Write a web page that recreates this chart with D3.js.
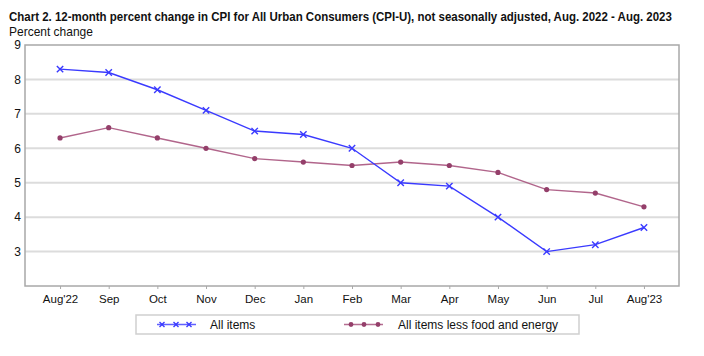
<!DOCTYPE html>
<html><head><meta charset="utf-8">
<script src="https://cdn.jsdelivr.net/npm/d3@7"></script>
<style>body{margin:0;background:#fff}svg{display:block}text{font-family:"Liberation Sans",Arial,sans-serif;fill:#111}</style>
</head><body><svg id="c" width="704" height="356"></svg>
<script>
const months = ["Aug'22","Sep","Oct","Nov","Dec","Jan","Feb","Mar","Apr","May","Jun","Jul","Aug'23"];
const allItems = [8.3,8.2,7.7,7.1,6.5,6.4,6.0,5.0,4.9,4.0,3.0,3.2,3.7];
const coreItems = [6.3,6.6,6.3,6.0,5.7,5.6,5.5,5.6,5.5,5.3,4.8,4.7,4.3];
const yTicks = [3,4,5,6,7,8,9];
const seriesNames = ["All items","All items less food and energy"];

const svg = d3.select("#c");
const L=25,R=679,T=45,B=286;
const FF = "Liberation Sans, Arial, sans-serif";
const x = d3.scalePoint().domain(months).range([L,R]).padding(0.72);
const y = d3.scaleLinear().domain([2,9]).range([B,T]);

function fitText(sel, tx, ty, w){
  const n = sel.node().getComputedTextLength();
  const s = Math.min(1, w/n);
  sel.attr("transform",`translate(${tx},${ty}) scale(${s},1)`);
}
const title = svg.append("text").attr("font-size",12.5).attr("font-weight","bold")
  .text("Chart 2. 12-month percent change in CPI for All Urban Consumers (CPI-U), not seasonally adjusted, Aug. 2022 - Aug. 2023");
fitText(title,9,20.5,663);
const pc = svg.append("text").attr("font-size",12.5).text("Percent change");
fitText(pc,9,35.5,84);

// gridlines
svg.append("g").selectAll("line").data(yTicks.filter(d=>d<9)).join("line")
  .attr("x1",L).attr("x2",R).attr("y1",d=>y(d)).attr("y2",d=>y(d))
  .attr("stroke","#dcdcdc").attr("stroke-width",2);

// y axis labels
const ya = svg.append("g").attr("transform",`translate(${L},0)`)
  .call(d3.axisLeft(y).tickValues(yTicks).tickSize(0).tickPadding(4).tickFormat(d3.format("d")));
ya.select(".domain").remove();
ya.selectAll("text").attr("font-size",12).attr("fill","#111").attr("font-family",FF);

// x axis
const xa = svg.append("g").attr("transform",`translate(0,${B})`)
  .call(d3.axisBottom(x).tickSize(3).tickPadding(6));
xa.select(".domain").remove();
xa.selectAll("line").attr("stroke","#aaa");
xa.selectAll("text").attr("font-size",11.5).attr("fill","#111").attr("font-family",FF);

// border
svg.append("rect").attr("x",L).attr("y",T).attr("width",R-L).attr("height",B-T)
  .attr("fill","none").attr("stroke","#a8a8a8").attr("stroke-width",1.5);

const line = d3.line().x((d,i)=>x(months[i])).y(d=>y(d));
const blue="#3a3aff", maroon="#a34a77", maroonDot="#943f6a";
svg.append("path").datum(coreItems).attr("d",line).attr("fill","none").attr("stroke",maroon).attr("stroke-width",1.4).attr("opacity",0.85);
svg.append("g").selectAll("circle").data(coreItems).join("circle")
  .attr("cx",(d,i)=>x(months[i])).attr("cy",d=>y(d)).attr("r",2.6).attr("fill",maroonDot);
svg.append("path").datum(allItems).attr("d",line).attr("fill","none").attr("stroke",blue).attr("stroke-width",1.4);
const cross = (g,cx,cy,s,col)=>{
  g.append("path").attr("d",`M${cx-s},${cy-s}L${cx+s},${cy+s}M${cx-s},${cy+s}L${cx+s},${cy-s}`)
   .attr("stroke",col).attr("stroke-width",1.4).attr("fill","none");
};
const mg = svg.append("g");
allItems.forEach((d,i)=>cross(mg,x(months[i]),y(d),3.2,blue));

// legend
svg.append("rect").attr("x",136).attr("y",315).attr("width",443).attr("height",19)
  .attr("fill","#fff").attr("stroke","#cfcfcf").attr("stroke-width",1.5);
const lg = svg.append("g");
lg.append("line").attr("x1",157).attr("x2",196).attr("y1",324.5).attr("y2",324.5).attr("stroke",blue).attr("stroke-width",1.4).attr("opacity",0.8);
[162,176,189].forEach(cx=>cross(lg,cx,324.5,2.5,blue));
lg.append("text").attr("x",210).attr("y",329).attr("font-size",12).text(seriesNames[0]);
lg.append("line").attr("x1",344).attr("x2",383).attr("y1",324.5).attr("y2",324.5).attr("stroke",maroon).attr("stroke-width",1.4).attr("opacity",0.8);
[351,364,378].forEach(cx=>lg.append("circle").attr("cx",cx).attr("cy",324.5).attr("r",2.4).attr("fill",maroonDot));
const t2 = lg.append("text").attr("font-size",12).text(seriesNames[1]);
fitText(t2,398,329,161);
</script></body></html>
